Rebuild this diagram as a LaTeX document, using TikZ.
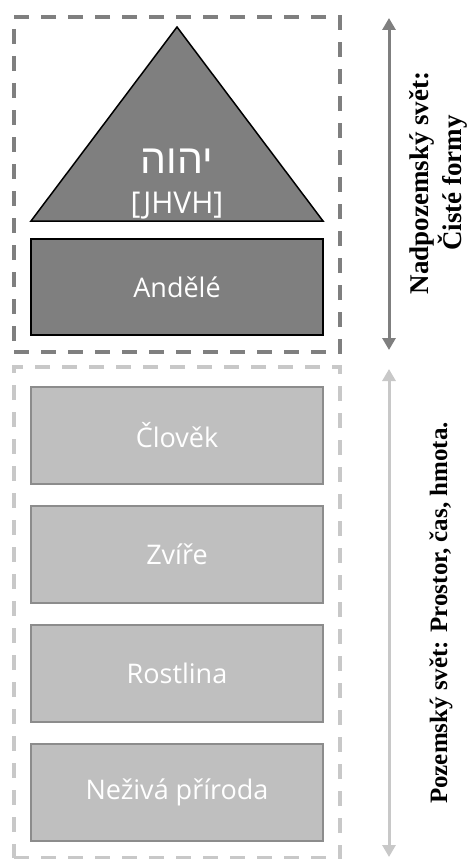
\documentclass[tikz,border=0pt]{standalone}
\usepackage{fontspec}
\setmainfont{Liberation Serif}
\newfontfamily\boxfont{Open Sans}
\newfontfamily\hebrewfont[Script=Hebrew]{Liberation Sans}
\TeXXeTstate=1
\usetikzlibrary{positioning,arrows.meta}

\definecolor{darkfill}{RGB}{127,127,127}
\definecolor{lightfill}{RGB}{191,191,191}
\definecolor{lightline}{RGB}{140,140,140}
\definecolor{lightdash}{RGB}{200,200,200}

\tikzset{
  darkbox/.style={draw=black, line width=1.5pt, fill=darkfill, text=white,
    minimum width=292pt, minimum height=96pt, font=\boxfont\fontsize{27}{30}\selectfont},
  lightbox/.style={draw=lightline, line width=1.5pt, fill=lightfill, text=white,
    minimum width=292pt, minimum height=97pt, font=\boxfont\fontsize{27}{30}\selectfont},
  frame/.style={draw=#1, line width=3.5pt, dash pattern=on 15pt off 12pt,
    minimum width=326pt},
  span/.style={draw=#1, line width=3pt, {Triangle[width=13pt,length=12pt]}-{Triangle[width=13pt,length=12pt]}},
  sidetext/.style={rotate=90, font=\bfseries\fontsize{27}{33}\selectfont, align=center},
}

\begin{document}
\begin{tikzpicture}[x=1pt, y=-1pt]
  \useasboundingbox (0,0) rectangle (472,859);

  % frames
  \node[frame=darkfill, minimum height=335pt] (upper) at (177,184.5) {};
  \node[frame=lightdash, minimum height=491pt] (lower) at (177,612.5) {};

  % triangle
  \coordinate (apex) at (177,27);
  \coordinate (baseL) at (31,221);
  \coordinate (baseR) at (323,221);
  \filldraw[fill=darkfill, draw=black, line width=1.5pt] (apex) -- (baseL) -- (baseR) -- cycle;
  \node[text=white, font=\hebrewfont\fontsize{41}{43}\selectfont, anchor=base] (yhwh) at (177,173) {\beginR יהוה\endR};
  \node[text=white, font=\boxfont\fontsize{30}{32}\selectfont, anchor=base] (jhvh) at (177,213) {[JHVH]};

  % boxes
  \node[darkbox] (andele) at (177,287) {Andělé};
  \node[lightbox] (clovek) at (177,435.5) {Člověk};
  \node[lightbox, below=20.5pt of clovek] (zvire) {Zvíře};
  \node[lightbox, below=20.5pt of zvire] (rostlina) {Rostlina};
  \node[lightbox, below=20.5pt of rostlina] (priroda) {Neživá příroda};

  % arrows
  \coordinate (upTop) at (389,18);
  \coordinate (upBot) at (389,350);
  \coordinate (loTop) at (389,369);
  \coordinate (loBot) at (389,857);
  \draw[span=darkfill] (upTop) -- (upBot);
  \draw[span=lightdash] (loTop) -- (loBot);

  \node[sidetext] (nadpozemsky) at (438,183) {Nadpozemský svět:\\Čisté formy};
  \node[sidetext, font=\bfseries\fontsize{25}{30}\selectfont] (pozemsky) at (441,613) {Pozemský svět: Prostor, čas, hmota.};
\end{tikzpicture}
\end{document}
